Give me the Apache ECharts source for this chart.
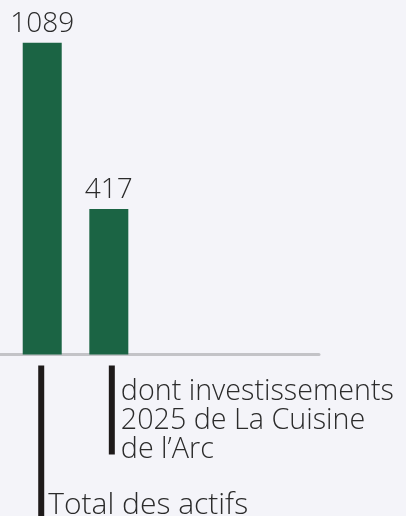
<!DOCTYPE html>
<html>
<head>
<meta charset="utf-8">
<script src="https://cdn.jsdelivr.net/npm/echarts@6/dist/echarts.min.js"></script>
<style>
html,body{margin:0;padding:0;background:#f4f4f9;}
#c{width:406px;height:516px;}
</style>
</head>
<body>
<div id="c"></div>
<script>
const categories = ['Total des actifs', 'dont investissements\n2025 de La Cuisine\nde l\u2019Arc'];
const values = [1089, 417];

const FONT = "'Open Sans', 'Lato', sans-serif";
const chart = echarts.init(document.getElementById('c'), null, {renderer: 'canvas'});

const option = {
  backgroundColor: '#f4f4f9',
  animation: false,
  grid: {left: 0, right: 87, top: 0, bottom: 161.5},
  xAxis: {
    type: 'value', min: -0.634, max: 4.156,
    axisLine: {show: true, onZero: false, lineStyle: {color: '#c3c3c7', width: 3}},
    axisTick: {show: false}, axisLabel: {show: false}, splitLine: {show: false}
  },
  yAxis: {
    type: 'log', min: 180, max: 1393,
    axisLine: {show: false}, axisTick: {show: false}, axisLabel: {show: false}, splitLine: {show: false}
  },
  series: [{
    type: 'bar',
    barWidth: 39,
    clip: true,
    itemStyle: {color: '#1b6444'},
    label: {
      show: true, position: 'top', distance: 5,
      fontSize: 28, fontWeight: 300, fontFamily: FONT, color: '#2b2b2b'
    },
    data: values.map((v, i) => [i, v])
  }]
};
chart.setOption(option);

// annotation lines and category texts positioned from the axis scale
const axisY = chart.convertToPixel({yAxisIndex: 0}, 180);
const cx = values.map((v, i) => chart.convertToPixel({xAxisIndex: 0}, i));
const lineDefs = [
  {dx: -4, h: 516 - (axisY + 11)},
  {dx: 0, h: 89}
];
const graphics = [];
categories.forEach((cat, i) => {
  const x0 = cx[i] + lineDefs[i].dx;
  graphics.push({
    type: 'rect', silent: true,
    shape: {x: x0, y: axisY + 11, width: 6, height: lineDefs[i].h},
    style: {fill: '#1e1a1a'}
  });
});
graphics.push({
  type: 'text', silent: true,
  x: cx[0] + 6, y: 505,
  style: {text: categories[0], fontSize: 30, fontWeight: 300, fontFamily: FONT, fill: '#2b2b2b',
          verticalAlign: 'middle', align: 'left'}
});
graphics.push({
  type: 'text', silent: true,
  x: cx[1] + 12, y: 377,
  style: {text: categories[1], fontSize: 28.7, fontWeight: 300, fontFamily: FONT, fill: '#2b2b2b',
          lineHeight: 29, verticalAlign: 'top', align: 'left'}
});
chart.setOption({graphic: graphics});
</script>
</body>
</html>
